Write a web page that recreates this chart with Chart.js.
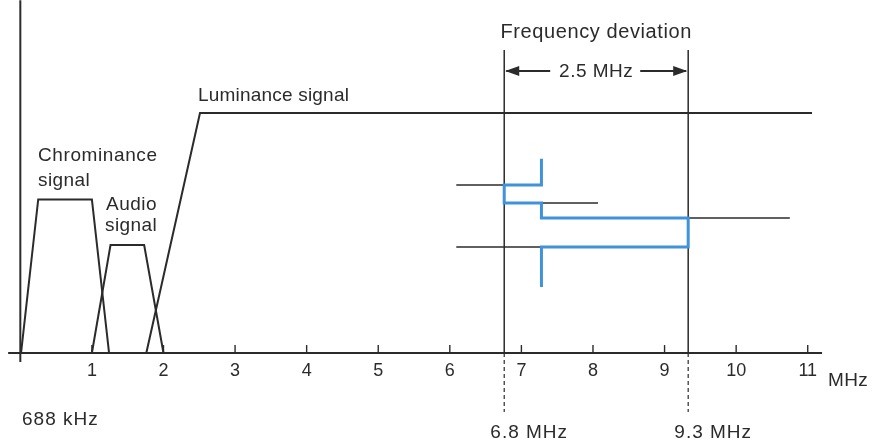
<!DOCTYPE html>
<html><head><meta charset="utf-8">
<script src="https://cdn.jsdelivr.net/npm/chart.js@4"></script>
<style>html,body{margin:0;padding:0;background:#fff;}#wrap{width:873px;height:444px;}</style>
</head><body><div id="wrap"><canvas id="c" width="873" height="444"></canvas></div>
<script>
// Data (x in MHz, y in relative amplitude: luminance = 100)
const chromaX = [0.01, 0.25, 1.0, 1.24];
const chromaY = [0, 64, 64, 0];
const audioX = [1.0, 1.26, 1.73, 2.0];
const audioY = [0, 45, 45, 0];
const lumaX = [1.76, 2.51, 11.06];
const lumaY = [0, 100, 100];
const fmBlueX = [7.28, 7.28, 6.76, 6.76, 7.28, 7.28, 9.33, 9.33, 7.28, 7.28];
const fmBlueY = [81, 70, 70, 62.5, 62.5, 56.25, 56.25, 44.2, 44.2, 27.5];
const stubX = [[6.09, 6.76], [7.28, 8.07], [9.33, 10.75], [6.09, 7.28]];
const stubY = [[70, 70], [62.5, 62.5], [56.25, 56.25], [44.2, 44.2]];
const devX = [6.76, 9.33];
const devTopY = 126.25;
const devBottomY = -24.6;
const tickValues = [1, 2, 3, 4, 5, 6, 7, 8, 9, 10, 11];
const tickLabels = ['1', '2', '3', '4', '5', '6', '7', '8', '9', '10', '11'];

const INK = '#2b2b2b';
const BLUE = '#3f92dc';
const pts = (xs, ys) => xs.map((x, i) => ({x, y: ys[i]}));
const lineDs = (data, color, width, dash) => ({
  data, showLine: true, borderColor: color, borderWidth: width, pointRadius: 0,
  fill: false, tension: 0, borderDash: dash || [], borderJoinStyle: 'miter', order: 2
});

const datasets = [
  lineDs(pts(chromaX, chromaY), INK, 2),
  lineDs(pts(audioX, audioY), INK, 2),
  lineDs(pts(lumaX, lumaY), INK, 2),
];
stubX.forEach((xs, i) => datasets.push(lineDs(pts(xs, stubY[i]), INK, 1.6)));
devX.forEach(x => {
  datasets.push(lineDs([{x, y: devTopY}, {x, y: 0}], INK, 1.5));
  datasets.push(lineDs([{x, y: 0}, {x, y: devBottomY}], INK, 1.2, [4, 3]));
});
const blue = lineDs(pts(fmBlueX, fmBlueY), BLUE, 3);
blue.order = 0;
datasets.push(blue);

const FONT = '"Liberation Sans", Arial, sans-serif';

function txt(ctx, s, x, y, size, spacing) {
  ctx.font = size + 'px ' + FONT;
  try { ctx.letterSpacing = (spacing || 0) + 'px'; } catch (e) {}
  ctx.fillText(s, x, y);
}

const deco = {
  id: 'deco',
  beforeDatasetsDraw(chart) {
    const {ctx, scales: {x, y}} = chart;
    ctx.save();
    ctx.strokeStyle = INK;
    ctx.lineWidth = 2;
    const y0 = y.getPixelForValue(0);
    ctx.beginPath();
    ctx.moveTo(x.getPixelForValue(-0.17), y0);
    ctx.lineTo(x.getPixelForValue(11.2), y0);
    ctx.stroke();
    ctx.beginPath();
    ctx.moveTo(x.getPixelForValue(0), y.getPixelForValue(147));
    ctx.lineTo(x.getPixelForValue(0), y0 + 9);
    ctx.stroke();
    ctx.lineWidth = 1.4;
    tickValues.forEach(v => {
      const px = x.getPixelForValue(v);
      ctx.beginPath();
      ctx.moveTo(px, y0);
      ctx.lineTo(px, y0 - 8);
      ctx.stroke();
    });
    ctx.restore();
  },
  afterDatasetsDraw(chart) {
    const {ctx, scales: {x, y}} = chart;
    ctx.save();
    ctx.fillStyle = INK;
    ctx.textBaseline = 'middle';
    const y0 = y.getPixelForValue(0);
    ctx.textAlign = 'center';
    tickValues.forEach((v, i) => txt(ctx, tickLabels[i], x.getPixelForValue(v), y0 + 18, 18, 0));
    ctx.textAlign = 'left';
    txt(ctx, 'MHz', 828, y0 + 28, 19, 0.4);
    txt(ctx, 'Luminance signal', 198, 96, 19, 0.2);
    txt(ctx, 'Chrominance', 38, 156, 19, 0.6);
    txt(ctx, 'signal', 38, 181, 19, 0.4);
    txt(ctx, 'Audio', 106, 205, 19, 0.5);
    txt(ctx, 'signal', 105, 226, 19, 0.4);
    txt(ctx, '688 kHz', 22, 420, 19, 1);
    ctx.textAlign = 'center';
    const xa = x.getPixelForValue(devX[0]);
    const xb = x.getPixelForValue(devX[1]);
    txt(ctx, '6.8 MHz', xa + 25, 433, 19, 1);
    txt(ctx, '9.3 MHz', xb + 25, 433, 19, 1);
    txt(ctx, 'Frequency deviation', (xa + xb) / 2, 32, 20, 0.6);
    const ay = 71;
    const mid = (xa + xb) / 2;
    txt(ctx, '2.5 MHz', mid, ay + 1, 19, 0.5);
    ctx.strokeStyle = INK;
    ctx.lineWidth = 1.8;
    ctx.beginPath();
    ctx.moveTo(xa + 2, ay); ctx.lineTo(mid - 46, ay);
    ctx.moveTo(mid + 44, ay); ctx.lineTo(xb - 2, ay);
    ctx.stroke();
    ctx.beginPath();
    ctx.moveTo(xa + 1, ay); ctx.lineTo(xa + 15, ay - 5); ctx.lineTo(xa + 15, ay + 5); ctx.closePath();
    ctx.moveTo(xb - 1, ay); ctx.lineTo(xb - 15, ay - 5); ctx.lineTo(xb - 15, ay + 5); ctx.closePath();
    ctx.fill();
    ctx.restore();
  }
};

new Chart(document.getElementById('c'), {
  type: 'scatter',
  data: {datasets},
  options: {
    responsive: false,
    animation: false,
    devicePixelRatio: 1,
    layout: {padding: {left: 6, right: 8, top: 0, bottom: 0}},
    plugins: {legend: {display: false}, tooltip: {enabled: false}},
    scales: {
      x: {type: 'linear', min: -0.2, max: 11.8, display: false},
      y: {type: 'linear', min: -37.9, max: 147.1, display: false}
    }
  },
  plugins: [deco]
});
</script>
</body></html>
